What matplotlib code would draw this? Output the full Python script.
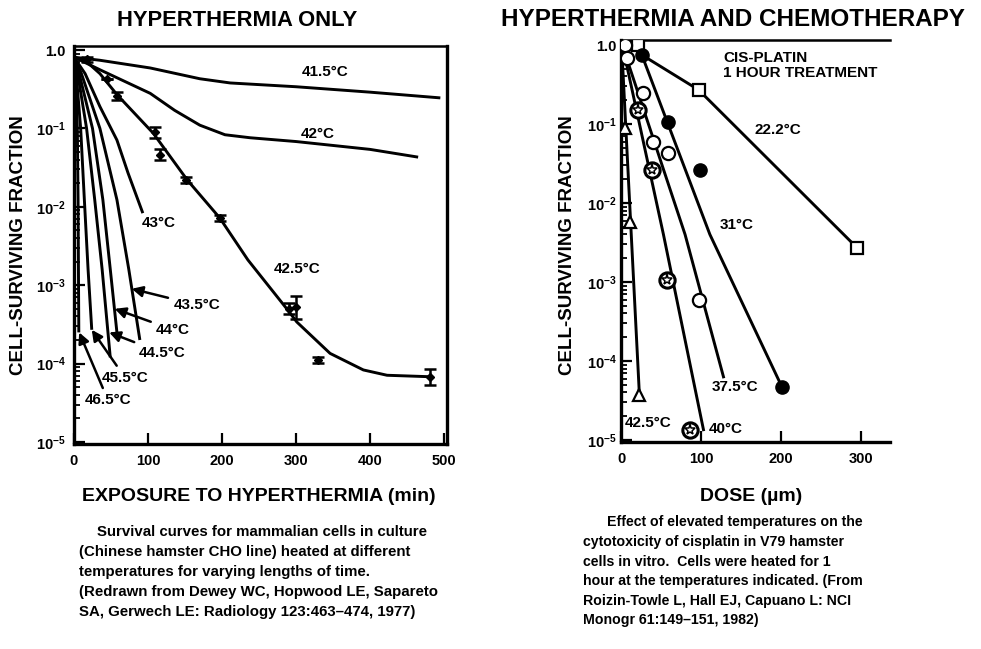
import numpy as np
import matplotlib
matplotlib.use("Agg")
import matplotlib.pyplot as plt
from matplotlib.ticker import LogLocator, FixedLocator, FixedFormatter, NullFormatter

plt.rcParams['font.family'] = ['Liberation Sans', 'DejaVu Sans']
plt.rcParams['font.weight'] = 'bold'
plt.rcParams['mathtext.fontset'] = 'custom'
plt.rcParams['mathtext.rm'] = 'Liberation Sans:bold'
plt.rcParams['mathtext.it'] = 'Liberation Sans:bold'
plt.rcParams['mathtext.bf'] = 'Liberation Sans:bold'
plt.rcParams['mathtext.default'] = 'rm'

# ---------------- LEFT PANEL DATA (minutes, surviving fraction) ----------------
t415 = [0, 35, 103, 170, 211, 300, 400, 495]
s415 = [0.81, 0.74, 0.59, 0.43, 0.38, 0.34, 0.29, 0.245]

t42 = [0, 35, 103, 136, 170, 204, 238, 300, 400, 465]
s42 = [0.81, 0.56, 0.28, 0.17, 0.11, 0.083, 0.076, 0.068, 0.054, 0.043]

t425 = [0, 17, 35, 58, 107, 153, 197, 235, 289, 301, 346, 391, 423, 481]
s425 = [0.81, 0.71, 0.50, 0.27, 0.087, 0.022, 0.0072, 0.0021, 4.8e-4, 3.4e-4, 1.35e-4, 8.3e-5, 7.1e-5, 6.8e-5]

pt425_t = [17, 45, 58, 109, 116, 152, 197, 290, 300, 330, 481]
pt425_s = [0.76, 0.43, 0.26, 0.089, 0.046, 0.022, 0.0072, 5.0e-4, 5.2e-4, 1.1e-4, 6.8e-5]
pt425_err = [0.03, 0.0, 0.05, 0.07, 0.07, 0.04, 0.04, 0.07, 0.15, 0.04, 0.10]  # half-width, decades

t43 = [0, 15, 35, 58, 73, 93]
s43 = [0.81, 0.50, 0.19, 0.071, 0.027, 0.0083]
t435 = [0, 10, 35, 58, 74, 89]
s435 = [0.81, 0.50, 0.10, 0.0123, 1.6e-3, 2.0e-4]
t44 = [0, 7, 25, 39, 49, 58]
s44 = [0.81, 0.50, 0.10, 0.0123, 1.6e-3, 2.5e-4]
t445 = [0, 5, 17, 28, 38, 49]
s445 = [0.81, 0.50, 0.10, 0.0123, 1.6e-3, 1.2e-4]
t455 = [0, 3, 9, 14, 19, 24]
s455 = [0.81, 0.50, 0.10, 0.0123, 1.6e-3, 2.7e-4]
t465 = [0, 2, 4.5, 5.5, 6, 6.5]
s465 = [0.81, 0.50, 0.10, 0.0123, 1.6e-3, 2.5e-4]

left_xticks = [0, 100, 200, 300, 400, 500]

# ---------------- RIGHT PANEL DATA (dose, surviving fraction) ----------------
sq_dose = [21, 97, 295]
sq_frac = [1.0, 0.27, 2.7e-3]
fit22_dose = [26, 97, 295]
fit22_frac = [0.75, 0.27, 2.7e-3]

fc_dose = [26, 59, 99, 201]
fc_frac = [0.75, 0.107, 0.026, 4.7e-5]
fit31_dose = [26, 111, 201]
fit31_frac = [0.75, 4.0e-3, 4.7e-5]

oc_dose = [5, 7, 28, 40, 59, 98]
oc_frac = [1.0, 0.68, 0.25, 0.059, 0.043, 6.0e-4]
fit375_dose = [7, 80, 128]
fit375_frac = [0.68, 4.0e-3, 6.3e-5]

star_dose = [21, 39, 57, 86]
star_frac = [0.15, 0.026, 1.07e-3, 1.35e-5]
fit40_dose = [5, 53, 103]
fit40_frac = [0.70, 4.0e-3, 1.35e-5]

tri_dose = [5, 11, 23]
tri_frac = [0.089, 5.7e-3, 3.7e-5]
fit425_dose = [1, 23]
fit425_frac = [0.9, 3.7e-5]

right_xticks = [0, 100, 200, 300]

ytick_vals = [1.0, 1e-1, 1e-2, 1e-3, 1e-4, 1e-5]
ytick_labels = ['1.0', '10$^{-1}$', '10$^{-2}$', '10$^{-3}$', '10$^{-4}$', '10$^{-5}$']

W, H = 981, 649
fig = plt.figure(figsize=(W / 100, H / 100), dpi=100)

def fx(px):
    return px / W

def fy(py):
    return 1 - py / H

ax1 = fig.add_axes([fx(74), fy(444), 373 / W, 398 / H])
ax2 = fig.add_axes([fx(621), fy(442), 269 / W, 402 / H])

LW = 2.1

def style_axes(ax, xlim, ylim, xticks, ypad, right_spine=True):
    ax.set_yscale('log')
    ax.set_xlim(*xlim)
    ax.set_ylim(*ylim)
    ax.yaxis.set_major_locator(FixedLocator(ytick_vals))
    ax.yaxis.set_major_formatter(FixedFormatter(ytick_labels))
    ax.yaxis.set_minor_locator(LogLocator(base=10, subs=np.arange(2, 10), numticks=20))
    ax.yaxis.set_minor_formatter(NullFormatter())
    ax.set_xticks(xticks)
    ax.set_xticklabels([str(v) for v in xticks])
    ax.tick_params(axis='both', which='major', direction='in', length=8, width=1.6,
                   labelsize=10.5, top=False, right=False)
    ax.tick_params(axis='y', which='major', pad=ypad)
    ax.tick_params(axis='x', which='major', pad=7)
    ax.tick_params(axis='y', which='minor', direction='in', length=4.5, width=1.3, right=False)
    for sp in ['left', 'bottom']:
        ax.spines[sp].set_linewidth(2.4)
    ax.spines['top'].set_linewidth(1.8)
    ax.spines['right'].set_linewidth(2.4)
    ax.spines['right'].set_visible(right_spine)
    for lab in ax.get_xticklabels() + ax.get_yticklabels():
        lab.set_fontweight('bold')

style_axes(ax1, (0, 504), (9.43e-6, 1.125), left_xticks, 6)
style_axes(ax2, (0, 336), (9.43e-6, 1.157), right_xticks, 3, right_spine=False)

# ---------------- LEFT PANEL ----------------
for t, s in [(t415, s415), (t42, s42), (t425, s425), (t43, s43), (t435, s435),
             (t44, s44), (t445, s445), (t455, s455), (t465, s465)]:
    ax1.plot(t, s, color='black', lw=LW, solid_capstyle='butt')

pt_s = np.array(pt425_s)
pt_e = np.array(pt425_err)
yerr = np.vstack([pt_s * (1 - 10 ** (-pt_e)), pt_s * (10 ** pt_e - 1)])
ax1.errorbar(pt425_t, pt_s, yerr=yerr, fmt='D', ms=4.5, color='black', ecolor='black',
             elinewidth=1.8, capsize=4, capthick=1.8)

tk = dict(fontsize=11, fontweight='bold', ha='center', va='center')
ax1.text(339, 0.52, '41.5°C', **tk)
ax1.text(330, 0.085, '42°C', **tk)
ax1.text(115, 6.2e-3, '43°C', **tk)
ax1.text(301, 1.6e-3, '42.5°C', **tk)

arrow = dict(arrowstyle='-|>', color='black', lw=1.8, mutation_scale=16, shrinkA=2, shrinkB=0)
for lab, xy, xyt in [('43.5°C', (78, 9e-4), (166, 5.6e-4)),
                     ('44°C', (55, 5e-4), (134, 2.7e-4)),
                     ('44.5°C', (47.5, 2.5e-4), (119, 1.37e-4)),
                     ('45.5°C', (24, 2.7e-4), (69, 6.6e-5)),
                     ('46.5°C', (7, 2.5e-4), (46, 3.4e-5))]:
    ax1.annotate(lab, xy=xy, xytext=xyt, arrowprops=arrow, **tk)

ax1.set_xlabel('EXPOSURE TO HYPERTHERMIA (min)', fontsize=14, fontweight='bold')
ax1.xaxis.set_label_coords(0.496, -0.11)
ax1.set_ylabel('CELL-SURVIVING FRACTION', fontsize=13.5, fontweight='bold')
ax1.yaxis.set_label_coords(-0.126, 0.5)

# ---------------- RIGHT PANEL ----------------
for d, f in [(fit22_dose, fit22_frac), (fit31_dose, fit31_frac), (fit375_dose, fit375_frac),
             (fit40_dose, fit40_frac), (fit425_dose, fit425_frac)]:
    ax2.plot(d, f, color='black', lw=LW)

ax2.plot(sq_dose, sq_frac, 's', ms=8, mfc='white', mec='black', mew=1.6, ls='none', zorder=5)
ax2.plot(fc_dose, fc_frac, 'o', ms=9.5, mfc='black', mec='black', ls='none', zorder=5)
ax2.plot(oc_dose, oc_frac, 'o', ms=9.5, mfc='white', mec='black', mew=1.6, ls='none', zorder=5)
ax2.plot(star_dose, star_frac, 'o', ms=11, mfc='white', mec='black', mew=2.2, ls='none', zorder=5)
ax2.plot(star_dose, star_frac, '*', ms=8, mfc='white', mec='black', mew=1.1, ls='none', zorder=6)
ax2.plot(tri_dose, tri_frac, '^', ms=8, mfc='white', mec='black', mew=1.6, ls='none', zorder=5)

ax2.text(127.5, 0.68, 'CIS-PLATIN', fontsize=11, fontweight='bold', ha='left', va='center')
ax2.text(127.5, 0.44, '1 HOUR TREATMENT', fontsize=11, fontweight='bold', ha='left', va='center')
ax2.text(196, 0.083, '22.2°C', **tk)
ax2.text(145, 5.3e-3, '31°C', **tk)
ax2.text(142, 4.7e-5, '37.5°C', **tk)
ax2.text(131, 1.38e-5, '40°C', **tk)
ax2.text(34, 1.65e-5, '42.5°C', **tk)

ax2.set_xlabel('DOSE (µm)', fontsize=14, fontweight='bold')
ax2.xaxis.set_label_coords(0.483, -0.114)
ax2.set_ylabel('CELL-SURVIVING FRACTION', fontsize=13.5, fontweight='bold')
ax2.yaxis.set_label_coords(-0.167, 0.49)

# ---------------- TITLES & CAPTIONS ----------------
fig.text(fx(237), fy(20), 'HYPERTHERMIA ONLY', fontsize=15.8, fontweight='bold', ha='center', va='center')
fig.text(fx(733), fy(20), 'HYPERTHERMIA AND CHEMOTHERAPY', fontsize=17.5, fontweight='bold',
         ha='center', va='center')

left_caption = [
    (97, 532, 'Survival curves for mammalian cells in culture'),
    (79, 552, '(Chinese hamster CHO line) heated at different'),
    (79, 572, 'temperatures for varying lengths of time.'),
    (79, 592, '(Redrawn from Dewey WC, Hopwood LE, Sapareto'),
    (79, 612, 'SA, Gerwech LE: Radiology 123:463–474, 1977)'),
]
right_caption = [
    (607, 522, 'Effect of elevated temperatures on the'),
    (583, 542, 'cytotoxicity of cisplatin in V79 hamster'),
    (583, 562, 'cells in vitro.  Cells were heated for 1'),
    (583, 581, 'hour at the temperatures indicated. (From'),
    (583, 601, 'Roizin-Towle L, Hall EJ, Capuano L: NCI'),
    (583, 620, 'Monogr 61:149–151, 1982)'),
]
for x, y, s in left_caption:
    fig.text(fx(x), fy(y), s, fontsize=10.8, fontweight='bold', ha='left', va='center')
for x, y, s in right_caption:
    fig.text(fx(x), fy(y), s, fontsize=10.2, fontweight='bold', ha='left', va='center')

fig.savefig('out.png', dpi=100)
